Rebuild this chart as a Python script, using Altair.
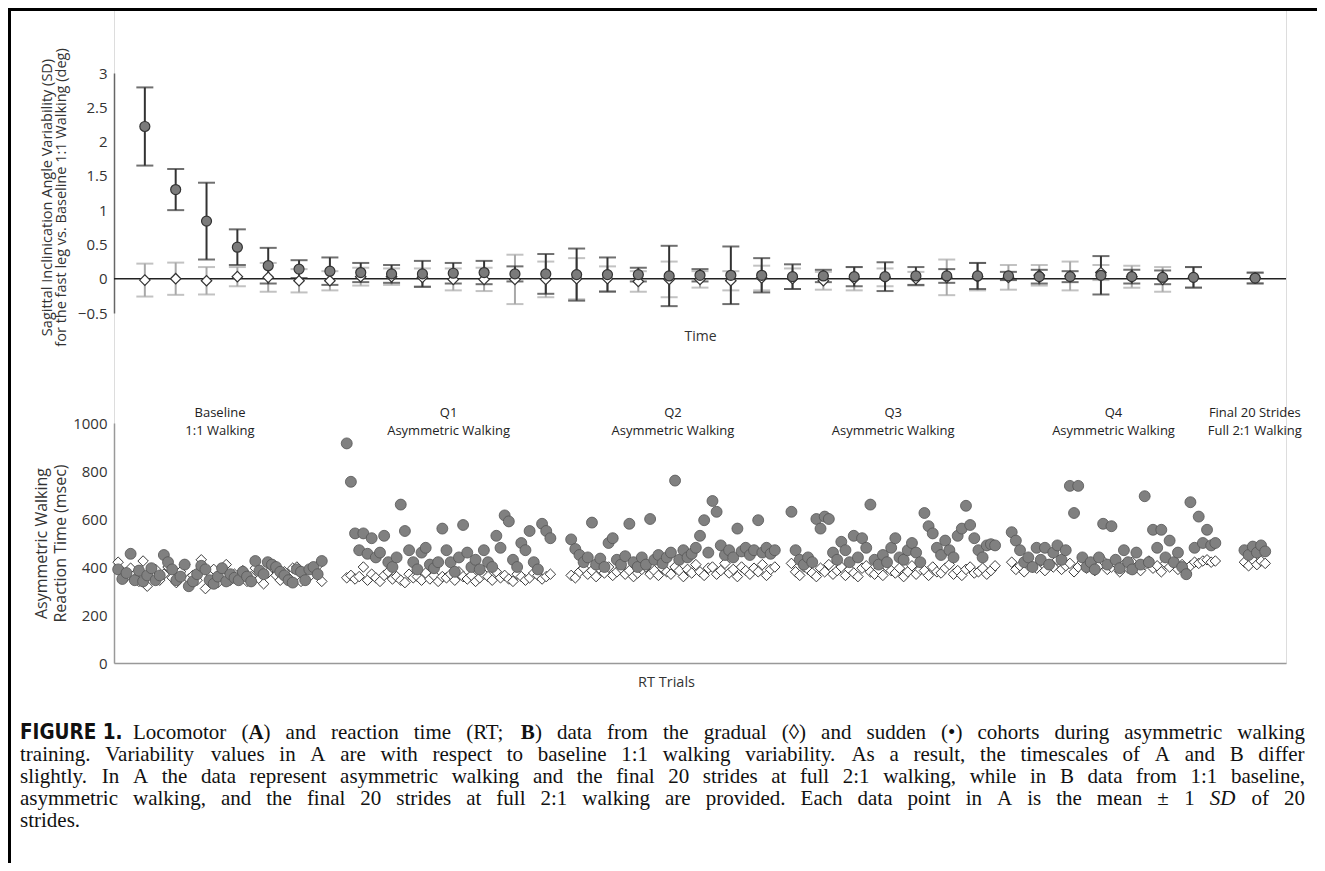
import re
import altair as alt
import pandas as pd

# ---------------- Panel A : locomotor variability (mean ± 1 SD) ----------------
time_idx = list(range(1, 36)) + [37]
sudden_mean = [2.22, 1.30, 0.84, 0.46, 0.19, 0.14, 0.11, 0.09, 0.07, 0.07,
               0.08, 0.09, 0.07, 0.07, 0.06, 0.06, 0.06, 0.04, 0.05, 0.05,
               0.05, 0.03, 0.04, 0.03, 0.03, 0.04, 0.04, 0.04, 0.04, 0.03,
               0.03, 0.05, 0.03, 0.02, 0.02, 0.01]
sudden_sd = [0.57, 0.30, 0.56, 0.26, 0.26, 0.13, 0.20, 0.14, 0.13, 0.19,
             0.15, 0.17, 0.11, 0.29, 0.38, 0.25, 0.10, 0.44, 0.09, 0.42,
             0.25, 0.18, 0.09, 0.14, 0.21, 0.13, 0.10, 0.19, 0.06, 0.10,
             0.08, 0.28, 0.10, 0.10, 0.15, 0.08]
gradual_mean = [-0.02, 0.00, -0.03, 0.03, 0.02, -0.03, -0.03, 0.03, 0.03, 0.02,
                -0.01, -0.01, -0.01, -0.01, 0.00, 0.00, -0.04, -0.01, -0.01, -0.03,
                0.01, 0.00, -0.03, 0.00, 0.02, 0.00, 0.02, 0.03, 0.02, 0.05,
                0.04, 0.09, 0.03, -0.01, 0.02, 0.01]
gradual_sd = [0.24, 0.235, 0.20, 0.14, 0.21, 0.17, 0.14, 0.13, 0.12, 0.13,
              0.16, 0.17, 0.36, 0.26, 0.30, 0.18, 0.15, 0.26, 0.12, 0.14,
              0.18, 0.15, 0.13, 0.17, 0.13, 0.10, 0.26, 0.20, 0.18, 0.15,
              0.21, 0.11, 0.16, 0.18, 0.15, 0.075]
a_ticks = [-0.5, 0, 0.5, 1, 1.5, 2, 2.5, 3]

# ---------------- Panel B : reaction times ----------------
seg_start = [1, 56, 110, 163, 216, 272]
seg_labels = ["Baseline\n1:1 Walking", "Q1\nAsymmetric Walking", "Q2\nAsymmetric Walking",
              "Q3\nAsymmetric Walking", "Q4\nAsymmetric Walking", "Final 20 Strides\nFull 2:1 Walking"]

baseline_sudden = [390, 350, 375, 455, 345, 385, 340, 365, 395, 345,
                   365, 450, 420, 390, 345, 360, 410, 320, 340, 370,
                   405, 390, 345, 330, 360, 395, 340, 370, 355, 345,
                   380, 360, 340, 425, 385, 370, 420, 410, 400, 380,
                   365, 345, 335, 390, 380, 345, 390, 400, 370, 425]
baseline_gradual = [420, 380, 360, 395, 350, 340, 425, 320, 365, 390,
                    345, 370, 400, 355, 335, 380, 410, 350, 365, 345,
                    430, 310, 375, 390, 335, 360, 410, 345, 370, 355,
                    385, 340, 360, 395, 350, 330, 375, 400, 365, 345,
                    380, 355, 395, 400, 340, 370, 360, 385, 405, 340]
q1_sudden = [915, 755, 540, 470, 540, 455, 520, 440, 460, 530,
             420, 400, 440, 660, 550, 470, 420, 390, 460, 480,
             410, 395, 420, 560, 470, 420, 380, 440, 575, 460,
             400, 430, 390, 470, 420, 400, 530, 480, 615, 590,
             430, 400, 500, 470, 550, 420, 390, 580, 550, 520]
q1_gradual = [355, 365, 350, 360, 400, 345, 370, 355, 340, 365,
              380, 350, 360, 345, 335, 370, 355, 360, 345, 375,
              350, 365, 340, 360, 355, 370, 345, 380, 360, 350,
              365, 340, 355, 370, 360, 345, 380, 355, 365, 350,
              340, 370, 360, 345, 355, 375, 365, 350, 360, 370]
q2_sudden = [515, 475, 450, 420, 440, 585, 410, 435, 400, 500,
             520, 430, 410, 445, 580, 420, 400, 440, 410, 600,
             430, 450, 415, 440, 460, 760, 430, 470, 440, 455,
             480, 530, 595, 460, 675, 630, 490, 450, 470, 440,
             560, 465, 480, 450, 470, 595, 460, 480, 455, 470]
q2_gradual = [365, 355, 380, 395, 370, 385, 360, 390, 375, 400,
              365, 380, 395, 370, 385, 360, 375, 390, 400, 370,
              385, 365, 395, 380, 370, 400, 385, 360, 390, 375,
              410, 380, 365, 395, 400, 370, 385, 415, 375, 390,
              360, 400, 385, 370, 395, 380, 410, 365, 390, 400]
q3_sudden = [630, 470, 430, 410, 440, 420, 600, 560, 610, 600,
             460, 430, 505, 470, 420, 530, 440, 520, 480, 660,
             430, 410, 450, 420, 480, 520, 440, 430, 470, 500,
             460, 420, 625, 570, 540, 480, 450, 510, 470, 440,
             530, 560, 655, 575, 520, 470, 440, 490, 495, 490]
q3_gradual = [415, 380, 365, 400, 390, 375, 360, 395, 380, 410,
              370, 385, 400, 365, 390, 375, 360, 395, 405, 380,
              370, 390, 365, 400, 385, 375, 395, 360, 380, 405,
              370, 390, 385, 365, 400, 380, 375, 395, 410, 370,
              385, 365, 390, 400, 375, 380, 395, 370, 385, 405]
q4_sudden = [545, 510, 470, 420, 440, 400, 480, 430, 480, 410,
             460, 490, 430, 470, 738, 625, 738, 440, 400, 420,
             390, 440, 580, 410, 570, 430, 395, 470, 420, 390,
             460, 410, 695, 420, 555, 480, 555, 440, 510, 420,
             460, 400, 370, 670, 480, 610, 500, 555, 490, 500]
q4_gradual = [420, 390, 405, 380, 415, 400, 395, 425, 385, 410,
              400, 430, 390, 405, 415, 380, 400, 420, 395, 410,
              385, 405, 425, 390, 400, 415, 380, 410, 395, 420,
              400, 385, 410, 425, 395, 405, 380, 415, 400, 420,
              390, 410, 375, 405, 420, 415, 425, 430, 420, 425]
final_sudden = [470, 450, 485, 460, 490, 465]
final_gradual = [420, 405, 430, 410, 425, 415]
b_ticks = [0, 200, 400, 600, 800, 1000]

# caption (**x** = bold, _x_ = italic)
caption_head = "FIGURE 1."
caption_lines = [
    "Locomotor (**A**) and reaction time (RT; **B**) data from the gradual (\u25CA) and sudden (\u2022) cohorts during asymmetric walking",
    "training. Variability values in A are with respect to baseline 1:1 walking variability. As a result, the timescales of A and B differ",
    "slightly. In A the data represent asymmetric walking and the final 20 strides at full 2:1 walking, while in B data from 1:1 baseline,",
    "asymmetric walking, and the final 20 strides at full 2:1 walking are provided. Each data point in A is the mean \u00B1 1 _SD_ of 20",
    "strides.",
]
caption_justify = [True, True, True, True, False]

# ---------------- tables ----------------
dfa = pd.DataFrame({
    "time": time_idx * 2,
    "mean": sudden_mean + gradual_mean,
    "sd": sudden_sd + gradual_sd,
    "cohort": ["sudden"] * len(time_idx) + ["gradual"] * len(time_idx),
})
dfa["lo"] = dfa["mean"] - dfa["sd"]
dfa["hi"] = dfa["mean"] + dfa["sd"]

sudden_rt = [baseline_sudden, q1_sudden, q2_sudden, q3_sudden, q4_sudden, final_sudden]
gradual_rt = [baseline_gradual, q1_gradual, q2_gradual, q3_gradual, q4_gradual, final_gradual]
rows = []
for start, s_vals, g_vals in zip(seg_start, sudden_rt, gradual_rt):
    for i, v in enumerate(g_vals):
        rows.append({"trial": start + i, "rt": v, "cohort": "gradual"})
    for i, v in enumerate(s_vals):
        rows.append({"trial": start + i, "rt": v, "cohort": "sudden"})
dfb = pd.DataFrame(rows)
dfl = pd.DataFrame({
    "label": seg_labels,
    "cx": [start + (len(s) - 1) / 2 for start, s in zip(seg_start, sudden_rt)],
})

# ---------------- layout constants ----------------
W, H = 1172, 655
PAD_L, PAD_R, PAD_B = 106, 31, 200
FONT = "Open Sans"
SERIF = "Liberation Serif, Times New Roman, serif"
TXT = "#333333"
CAP_SIZE = 21
CAP_LEFT, CAP_FIRST_LEFT, CAP_RIGHT = 20 - 114, 133 - 114, 1305 - 114
CAP_Y0, CAP_LH = 733 - 8, 22

# Times / Liberation Serif advance widths (1/1000 em) for justified caption layout
_TW = {" ": 250, "(": 333, ")": 333, ",": 250, ".": 250, ":": 278, ";": 278, "-": 333,
       "\u00B1": 564, "\u25CA": 494, "\u2022": 350}
_TW.update({d: 500 for d in "0123456789"})
_TW.update(dict(zip("ABCDEFGHIJKLMNOPQRSTUVWXYZ",
                    [722, 667, 667, 722, 611, 556, 722, 722, 333, 389, 722, 611, 889,
                     722, 722, 556, 722, 667, 556, 611, 722, 722, 944, 722, 722, 611])))
_TW.update(dict(zip("abcdefghijklmnopqrstuvwxyz",
                    [444, 500, 444, 500, 444, 333, 500, 500, 278, 278, 500, 278, 778,
                     500, 500, 500, 500, 333, 389, 278, 500, 500, 722, 500, 500, 444])))


def text_width(s):
    return sum(_TW.get(ch, 500) for ch in s) * CAP_SIZE / 1000.0


def split_styles(word):
    segs = []
    for part in re.split(r"(\*\*[^*]+\*\*|_[^_]+_)", word):
        if not part:
            continue
        if part.startswith("**"):
            segs.append((part[2:-2], "bold"))
        elif part.startswith("_") and part.endswith("_") and len(part) > 2:
            segs.append((part[1:-1], "italic"))
        else:
            segs.append((part, "normal"))
    return segs


cap_rows = []
for li, (line, just) in enumerate(zip(caption_lines, caption_justify)):
    x0 = CAP_FIRST_LEFT if li == 0 else CAP_LEFT
    y = CAP_Y0 + li * CAP_LH
    words = [split_styles(w) for w in line.split(" ")]
    widths = [sum(text_width(t) for t, _ in w) for w in words]
    if just and len(words) > 1:
        gap = (CAP_RIGHT - x0 - sum(widths)) / (len(words) - 1)
    else:
        gap = text_width(" ")
    x = x0
    for w, ww in zip(words, widths):
        xs = x
        for t, st in w:
            cap_rows.append({"text": t, "style": st, "px": xs, "py": y})
            xs += text_width(t)
        x += ww + gap
dfc = pd.DataFrame(cap_rows)

# ---------------- panel A ----------------
xA_scale = alt.Scale(domain=[0, 38], nice=False, zero=False)
yA_scale = alt.Scale(domain=[-0.5, 3], range=[305, 65], nice=False)
xA_axis = alt.Axis(orient="bottom", title="Time", domain=False, ticks=False, labels=False, grid=False,
                   offset=-350, titlePadding=16, titleFontSize=14, titleFontWeight="normal",
                   titleColor=TXT, titleFont=FONT)
yA_axis = alt.Axis(orient="left", values=a_ticks, format=".1~f", grid=False, ticks=False,
                   domainColor="#666666", domainWidth=1.5, labelFontSize=15, labelColor=TXT,
                   labelPadding=7, labelFont=FONT,
                   title=["Sagittal Inclinication Angle Variability (SD)",
                          "for the fast leg vs. Baseline 1:1 Walking (deg)"],
                   titleFontSize=14.5, titleFontWeight="normal", titleColor=TXT, titleFont=FONT,
                   titleLineHeight=14, titlePadding=9, titleY=189)


def xa(field):
    return alt.X(field, type="quantitative", scale=xA_scale, axis=xA_axis)


def ya(field):
    return alt.Y(field, type="quantitative", scale=yA_scale, axis=yA_axis)


base_a = alt.Chart(dfa)
grad_a = base_a.transform_filter(alt.datum.cohort == "gradual")
sud_a = base_a.transform_filter(alt.datum.cohort == "sudden")

layers_a = []
for src, col in [(grad_a, "#a8a8a8"), (sud_a, "#333333")]:
    layers_a.append(src.mark_rule(color=col, strokeWidth=2).encode(x=xa("time"), y=ya("lo"), y2="hi"))
    layers_a.append(src.mark_tick(color=col, orient="horizontal", size=17, thickness=2)
                    .encode(x=xa("time"), y=ya("hi")))
    layers_a.append(src.mark_tick(color=col, orient="horizontal", size=17, thickness=2)
                    .encode(x=xa("time"), y=ya("lo")))

zero_line = alt.Chart(pd.DataFrame({"z": [0]})).mark_rule(color="#222222", strokeWidth=1.5).encode(
    x=alt.datum(0, scale=xA_scale, axis=xA_axis), x2=alt.datum(38), y=alt.datum(0, scale=yA_scale, axis=yA_axis))
diam_a = grad_a.mark_point(shape="diamond", filled=True, fill="white", stroke="#333333",
                           strokeWidth=1.2, size=110, opacity=1).encode(x=xa("time"), y=ya("mean"))
circ_a = sud_a.mark_point(shape="circle", filled=True, fill="#7b7b7b", stroke="#333333",
                          strokeWidth=1.2, size=100, opacity=1).encode(x=xa("time"), y=ya("mean"))

panel_a = alt.layer(*layers_a, zero_line, diam_a, circ_a)

# ---------------- panel B ----------------
xB_scale = alt.Scale(domain=[0, 282], nice=False, zero=False)
yB_scale = alt.Scale(domain=[0, 1000], range=[655, 415], nice=False)
xB_axis = alt.Axis(orient="bottom", title="RT Trials", domain=True, domainColor="#999999", domainWidth=1.5,
                   ticks=False, labels=False, grid=False, titlePadding=12, titleFontSize=14.5,
                   titleFontWeight="normal", titleColor=TXT, titleFont=FONT, titleX=552)
yB_axis = alt.Axis(orient="left", values=b_ticks, format="d", grid=False, ticks=False, domainColor="#999999",
                   domainWidth=1.5, labelFontSize=15, labelColor=TXT, labelPadding=7, labelFont=FONT,
                   title=["Asymmetric Walking", "Reaction Time (msec)"], titleFontSize=16,
                   titleFontWeight="normal", titleColor=TXT, titleFont=FONT, titleLineHeight=19,
                   titlePadding=4)


def xb(field):
    return alt.X(field, type="quantitative", scale=xB_scale, axis=xB_axis)


def yb(field):
    return alt.Y(field, type="quantitative", scale=yB_scale, axis=yB_axis)


base_b = alt.Chart(dfb)
diam_b = base_b.transform_filter(alt.datum.cohort == "gradual").mark_point(
    shape="diamond", filled=True, fill="white", stroke="#3a3a3a", strokeWidth=1, size=110, opacity=1
).encode(x=xb("trial"), y=yb("rt"))
circ_b = base_b.transform_filter(alt.datum.cohort == "sudden").mark_point(
    shape="circle", filled=True, fill="#808080", stroke="#555555", strokeWidth=0.8, size=120, opacity=1
).encode(x=xb("trial"), y=yb("rt"))
labels_b = alt.Chart(dfl).mark_text(font=FONT, fontSize=13, color="#222222", lineBreak="\n", lineHeight=18,
                                    baseline="middle", align="center").encode(
    x=xb("cx"), y=alt.datum(1041), text="label:N")

panel_b = alt.layer(diam_b, circ_b, labels_b)

# ---------------- caption and frame ----------------
one = pd.DataFrame({"k": [0]})
cap_head = alt.Chart(one).mark_text(text=caption_head, font="Liberation Sans Narrow, DejaVu Sans Condensed, sans-serif",
                                    fontWeight="bold", fontSize=20.5, color="#111111", align="left",
                                    baseline="middle").encode(x=alt.value(CAP_LEFT), y=alt.value(CAP_Y0))

cap_layers = []
for st in ["normal", "bold", "italic"]:
    cap_layers.append(
        alt.Chart(dfc).transform_filter(alt.datum.style == st).mark_text(
            font=SERIF, fontSize=CAP_SIZE, color="#111111", align="left", baseline="middle",
            fontWeight="bold" if st == "bold" else "normal",
            fontStyle="italic" if st == "italic" else "normal",
        ).encode(
            x=alt.X("px:Q", scale=None, axis=None),
            y=alt.Y("py:Q", scale=None, axis=None),
            text="text:N",
        )
    )

frame_left = alt.Chart(one).mark_rule(color="#000000", strokeWidth=3).encode(
    x=alt.value(-PAD_L + 1.5), y=alt.value(0), y2=alt.value(H + PAD_B))
frame_top = alt.Chart(one).mark_rule(color="#000000", strokeWidth=3).encode(
    x=alt.value(-PAD_L), x2=alt.value(W + PAD_R), y=alt.value(1.5))

chart = alt.layer(panel_a, panel_b, cap_head, *cap_layers, frame_left, frame_top).resolve_scale(
    x="independent", y="independent"
).properties(
    width=W, height=H,
    autosize=alt.AutoSizeParams(type="none"),
    padding={"left": PAD_L, "top": 0, "right": PAD_R, "bottom": PAD_B},
).configure_view(strokeWidth=0, stroke="transparent").configure(background="white")

chart.save("out.html", embed_options={"renderer": "svg", "actions": False})
